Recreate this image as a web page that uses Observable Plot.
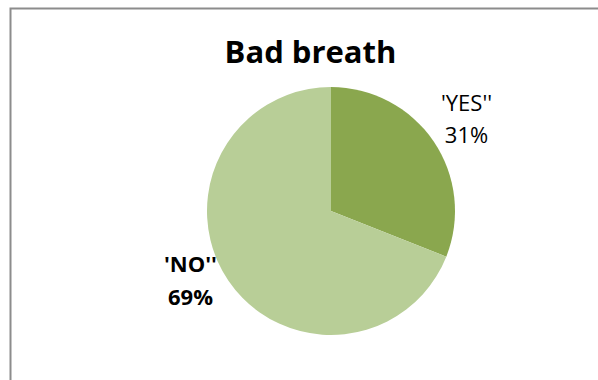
<!DOCTYPE html>
<html><head><meta charset="utf-8">
<script src="https://cdn.jsdelivr.net/npm/d3@7"></script>
<script src="https://cdn.jsdelivr.net/npm/@observablehq/plot@0.6"></script>
<style>body{margin:0;background:#fff;} #chart svg{display:block;}</style>
</head><body><div id="chart"></div>
<script>
const categories = ["'YES''", "'NO''"];
const values = [31, 69];
const percentLabels = ["31%", "69%"];
const colors = ["#8AA74E", "#B8CE97"];
const title = "Bad breath";

const data = categories.map((c, i) => ({category: c, value: values[i], pct: percentLabels[i]}));

// layout constants (pixels)
const W = 598, H = 380;
const cx = 331, cy = 211, R = 124;
const labelPos = [{x: 466, y: 88, bold: false}, {x: 190, y: 248, bold: true}];

const colorScale = Plot.scale({color: {type: "ordinal", domain: categories, range: colors}});
const arcs = d3.pie().value(d => d.value).sort(null)(data);

function pieMark(index, scales, values_, dims, context) {
  const g = d3.create("svg:g");
  const arcGen = d3.arc().innerRadius(0).outerRadius(R);
  const px = scales.x(cx), py = scales.y(cy);
  g.selectAll("path").data(arcs).join("path")
    .attr("transform", `translate(${px},${py})`)
    .attr("d", arcGen)
    .attr("fill", d => colorScale.apply(d.data.category));
  return g.node();
}

const labelData = data.map((d, i) => ({...d, x: labelPos[i].x, y: labelPos[i].y, bold: labelPos[i].bold}));

const chart = Plot.plot({
  width: W, height: H, margin: 0,
  x: {domain: [0, W], range: [0, W], axis: null},
  y: {domain: [0, H], range: [0, H], axis: null},
  style: {fontFamily: "'Open Sans', sans-serif", background: "#fff"},
  marks: [
    Plot.rect([{}], {x1: 10.5, y1: 8.5, x2: W + 10, y2: H + 10, fill: "none", stroke: "#8c8c8c", strokeWidth: 2}),
    pieMark,
    Plot.text([title], {x: 310, y: 40, text: d => d, fontSize: 31, fontWeight: "bold", fill: "#000", lineAnchor: "top"}),
    Plot.text(labelData.filter(d => !d.bold), {x: "x", y: "y", text: d => d.category + "\n" + d.pct, fontSize: 22, lineHeight: 1.45, fill: "#000", lineAnchor: "top"}),
    Plot.text(labelData.filter(d => d.bold), {x: "x", y: "y", text: d => d.category + "\n" + d.pct, fontSize: 22, lineHeight: 1.5, fontWeight: "bold", fill: "#000", lineAnchor: "top"})
  ]
});
document.getElementById("chart").append(chart);
</script>
</body></html>
